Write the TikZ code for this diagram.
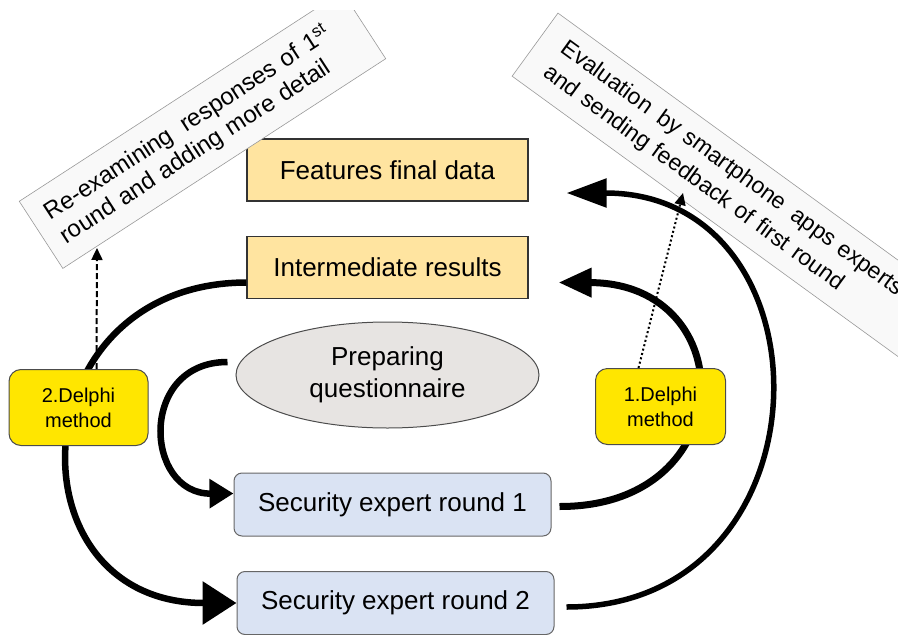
\documentclass[tikz,border=0pt]{standalone}
\usepackage{fontspec}
\setmainfont{Liberation Sans}
\usepackage{xcolor}
\usetikzlibrary{arrows.meta}
\usetikzlibrary{positioning}
\usetikzlibrary{shapes.geometric}

\definecolor{resultfill}{RGB}{255,228,160}
\definecolor{prepfill}{RGB}{231,228,226}
\definecolor{roundfill}{RGB}{218,227,243}
\definecolor{delphifill}{RGB}{255,230,0}
\definecolor{notefill}{RGB}{249,249,249}

\begin{document}
\begin{tikzpicture}[x=1pt, y=-1pt, node distance=97.5pt]
\tikzstyle{result} = [draw=black!80, fill=resultfill, line width=1.2pt, minimum width=281pt, minimum height=62pt, font=\fontsize{26}{30}\selectfont]
\tikzstyle{prep} = [ellipse, draw=black!70, fill=prepfill, line width=1pt, minimum width=303pt, minimum height=106pt, align=center, font=\fontsize{26}{32}\selectfont]
\tikzstyle{expround} = [draw=black!60, fill=roundfill, rounded corners=8pt, line width=1pt, minimum width=317pt, minimum height=63pt, font=\fontsize{26}{30}\selectfont]
\tikzstyle{delphi} = [draw=black!70, fill=delphifill, rounded corners=12pt, line width=1pt, minimum width=130pt, minimum height=76pt, align=center, font=\fontsize{20}{25}\selectfont]
\tikzstyle{note} = [draw=black!40, fill=notefill, line width=0.6pt, minimum height=80pt, inner xsep=16pt, align=left]
\tikzstyle{feedback} = [line width=6.5pt]
\tikzstyle{hint} = [line width=2pt, -{Triangle[length=12pt, width=11pt]}]

\useasboundingbox (0,0) rectangle (898,635);

\node[result] (final) at (387.5,170) {Features final data};
\node[result] (inter) [below of=final] {Intermediate results};
\node[prep] (prep) [below of=inter, node distance=107.5pt] {Preparing\\questionnaire};
\node[expround] (round1) [below of=prep, node distance=129.5pt, xshift=5pt] {Security expert round 1};
\node[expround] (round2) [below of=round1, node distance=98.5pt, xshift=3pt] {Security expert round 2};

% feedback loops
\draw[feedback, -{Triangle[length=34pt, width=42pt]}] ([yshift=-15pt]inter.west) .. controls (18,283) and (7,603) .. (round2.west);
\draw[feedback, -{Triangle[length=24pt, width=28pt]}] ([xshift=-8pt, yshift=13pt]prep.west) .. controls (138,362) and (144,494) .. ([yshift=11pt]round1.west);
\draw[feedback, line width=7pt, -{Triangle[length=33pt, width=28pt]}] ([xshift=8pt, yshift=-2pt]round1.east) .. controls (743,507) and (743,283) .. ([xshift=30pt, yshift=-15pt]inter.east);
\draw[feedback, line width=5.5pt, -{Triangle[length=40pt, width=28pt]}] ([xshift=12pt, yshift=-4pt]round2.east) .. controls (835,607) and (837,193) .. ([xshift=38pt, yshift=-23pt]final.east);

\node[delphi, minimum width=139pt] (delphi2) at (78.5,407.5) {2.Delphi\\method};
\node[delphi] (delphi1) at (660.5,406.5) {1.Delphi\\method};

\begin{scope}
\clip (0,10) rectangle (898,635);
\node[note, rotate=33, text width=353pt, font=\fontsize{24}{28}\selectfont] (reexam) at (202.5,130) {Re-examining\hspace{0.55em}responses of 1\textsuperscript{st}\\round and adding more detail};
\end{scope}
\node[note, rotate=-36, inner xsep=24pt, text width=450pt, minimum height=78pt, font=\fontsize{23}{30}\selectfont] (evaluation) at (736.5,191) {Evaluation\hspace{0.5em}by smartphone\hspace{0.5em}apps experts\\and sending feedback of first round};

\coordinate (reexam tip) at (97,248);
\coordinate (evaluation tip) at (683,193);
\draw[hint, dash pattern=on 6pt off 3pt] ([xshift=18pt]delphi2.north) -- (reexam tip);
\draw[hint, dash pattern=on 2pt off 2.5pt] ([xshift=-22pt]delphi1.north) -- (evaluation tip);

\end{tikzpicture}
\end{document}
